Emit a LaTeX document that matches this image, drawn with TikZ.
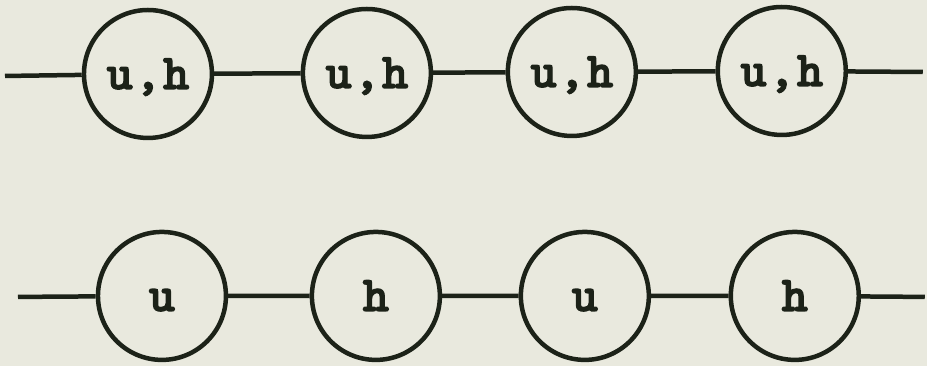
\documentclass[tikz,border=0pt]{standalone}
\usepackage{fontspec}
\newfontfamily\labelfont{lmmonolt10-bold.otf}[LetterSpace=4,FakeBold=2.5]
\definecolor{paper}{RGB}{233,233,222}
\definecolor{ink}{RGB}{28,34,24}
\tikzset{
  var/.style={circle, draw=ink, line width=4.5pt, minimum size=128pt, inner sep=0pt,
    text=ink, font=\fontsize{50}{56}\labelfont, text height=30pt, text depth=0pt},
  bond/.style={draw=ink, line width=4.5pt}
}
\begin{document}
\begin{tikzpicture}[x=1pt,y=-1pt]
  \fill[paper] (0,0) rectangle (927,366);

  %上段
  \node[var] (a1) at (148,74) {u,h};
  \node[var] (a2) at (367,73) {u,h};
  \node[var] (a3) at (572,72) {u,h};
  \node[var] (a4) at (782,71) {u,h};
  \coordinate (al) at (5,76);
  \coordinate (ar) at (923,72);
  \draw[bond] (al) -- (a1) -- (a2) -- (a3) -- (a4) -- (ar);

  %下段
  \node[var] (b1) at (162,296) {u};
  \node[var] (b2) at (376,296) {h};
  \node[var] (b3) at (585,296) {u};
  \node[var] (b4) at (795,296) {h};
  \coordinate (bl) at (18,297);
  \coordinate (br) at (925,297);
  \draw[bond] (bl) -- (b1) -- (b2) -- (b3) -- (b4) -- (br);
\end{tikzpicture}
\end{document}
